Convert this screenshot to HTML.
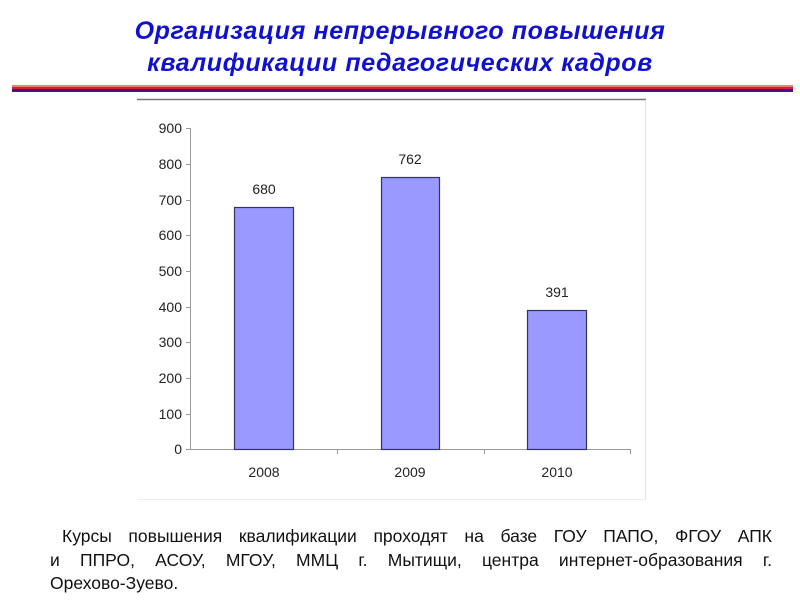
<!DOCTYPE html>
<html><head><meta charset="utf-8"><style>
body{margin:0;width:800px;height:600px;background:#fff;overflow:hidden;position:relative;font-family:"Liberation Sans","DejaVu Sans",sans-serif}
.t{position:absolute;left:0;width:800px;text-align:center;color:#1010d0;font-weight:bold;font-style:italic;font-size:25px;line-height:32px;letter-spacing:0.6px}
.l{position:absolute;font-size:17.5px;line-height:23px;color:#111;white-space:nowrap;text-align:justify;text-align-last:justify}
</style></head><body>
<div class="t" style="top:15px">Организация непрерывного повышения<br>квалификации педагогических кадров</div>
<div style="position:absolute;left:12px;top:85px;width:781px;height:2px;background:#f08070"></div>
<div style="position:absolute;left:12px;top:87px;width:781px;height:2px;background:#d02040"></div>
<div style="position:absolute;left:12px;top:89px;width:781px;height:3px;background:#501080"></div>
<svg style="position:absolute;left:0;top:0" width="800" height="600" font-family="Liberation Sans, DejaVu Sans, sans-serif" font-size="14" fill="#222">
<line x1="137" y1="99.5" x2="646" y2="99.5" stroke="#777" stroke-width="1.5"/>
<line x1="645.5" y1="100" x2="645.5" y2="500" stroke="#e4e4e4"/>
<line x1="137" y1="499.5" x2="646" y2="499.5" stroke="#eee"/>
<g stroke="#999">
<line x1="190.5" y1="128" x2="190.5" y2="449"/>
<line x1="186" y1="449.5" x2="631" y2="449.5"/>
<line x1="186" y1="128.5" x2="190" y2="128.5"/><line x1="186" y1="164.5" x2="190" y2="164.5"/><line x1="186" y1="200.5" x2="190" y2="200.5"/><line x1="186" y1="235.5" x2="190" y2="235.5"/><line x1="186" y1="271.5" x2="190" y2="271.5"/><line x1="186" y1="307.5" x2="190" y2="307.5"/><line x1="186" y1="342.5" x2="190" y2="342.5"/><line x1="186" y1="378.5" x2="190" y2="378.5"/><line x1="186" y1="414.5" x2="190" y2="414.5"/>
<line x1="337.5" y1="449" x2="337.5" y2="454"/><line x1="484.5" y1="449" x2="484.5" y2="454"/><line x1="630.5" y1="449" x2="630.5" y2="454"/>
</g>
<g text-anchor="end">
<text x="182" y="133">900</text><text x="182" y="169">800</text><text x="182" y="205">700</text><text x="182" y="240">600</text><text x="182" y="276">500</text><text x="182" y="312">400</text><text x="182" y="347">300</text><text x="182" y="383">200</text><text x="182" y="419">100</text><text x="182" y="454">0</text>
</g>
<g fill="#9999ff" stroke="#333366" stroke-width="1.2">
<rect x="234.5" y="207.5" width="59" height="242"/>
<rect x="381.5" y="177.5" width="58" height="272"/>
<rect x="527.5" y="310.5" width="59" height="139"/>
</g>
<g text-anchor="middle">
<text x="264" y="194">680</text><text x="410" y="164">762</text><text x="557" y="297">391</text>
<text x="264" y="477">2008</text><text x="410" y="477">2009</text><text x="557" y="477">2010</text>
</g>
</svg>
<div class="l" style="left:62px;top:525px;width:710px">Курсы повышения квалификации проходят на базе ГОУ ПАПО, ФГОУ АПК</div>
<div class="l" style="left:50px;top:549px;width:722px">и ППРО, АСОУ, МГОУ, ММЦ г. Мытищи, центра интернет-образования г.</div>
<div class="l" style="left:50px;top:572px;text-align-last:left">Орехово-Зуево.</div>
</body></html>
